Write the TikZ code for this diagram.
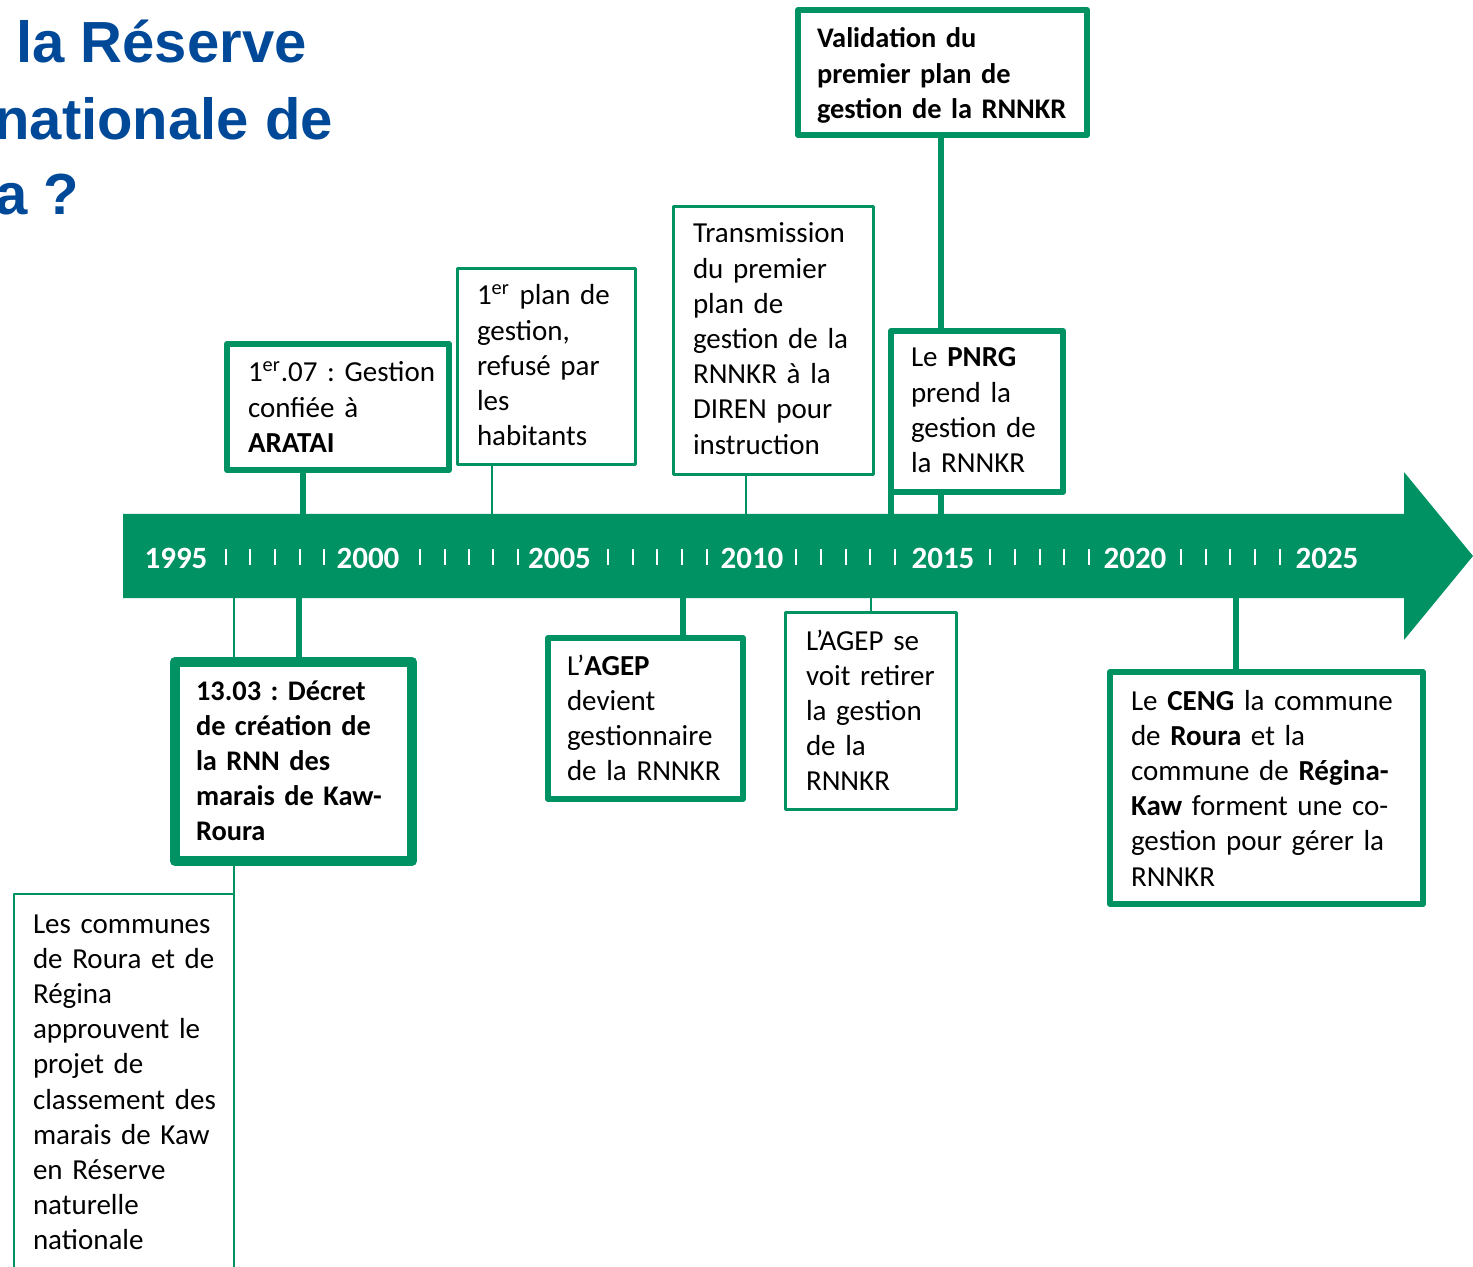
\documentclass[tikz,border=0pt]{standalone}
\usepackage{fontspec}
\setmainfont{Carlito}
\newfontfamily\titlefont{Liberation Sans}
\definecolor{tlgreen}{RGB}{0,146,99}
\definecolor{tlblue}{RGB}{0,72,152}
\pgfdeclarelayer{background}
\pgfsetlayers{background,main}
\frenchspacing
\begin{document}
\frenchspacing
\begin{tikzpicture}[x=0.5pt,y=-0.5pt,
  gbox/.style={draw=tlgreen, fill=white, line join=round, inner sep=0pt, outer sep=0pt, anchor=north west},
  lwthick/.style={line width=3pt},
  lwthin/.style={line width=1.4pt},
  lwheavy/.style={line width=5pt},
  conthick/.style={draw=tlgreen, line width=3pt},
  conthin/.style={draw=tlgreen, line width=1.4pt},
  txt/.style={inner sep=0pt, outer sep=0pt, align=left, text width=200pt, anchor=base west,
    font=\fontsize{14.5}{17.6}\selectfont},
  btxt/.style={txt, font=\fontsize{14.2}{17.6}\selectfont\bfseries},
  year/.style={text=white, inner sep=0pt, anchor=base, font=\fontsize{15.5}{18}\selectfont\bfseries},
  tick/.style={draw=white, line width=1pt},
  ttl/.style={text=tlblue, inner sep=0pt, anchor=base west, font=\titlefont\bfseries\fontsize{29}{34}\selectfont}
]
\useasboundingbox (0,0) rectangle (1473,1267);
\clip (0,0) rectangle (1473,1267);

% title (cut by the left edge, as in the reference)
\node[ttl] (t1) at (16,63) {la Réserve};
\node[ttl] (t2) at (-6,140) {nationale de};
\node[ttl] (t3) at (-5,215) {a ?};

% band attach points
\coordinate (uVal) at (941,514);
\coordinate (uAra) at (303,514);
\coordinate (uPlan) at (492,514);
\coordinate (uTrans) at (746,514);
\coordinate (uPnrg) at (891,514);
\coordinate (dDec) at (299,598);
\coordinate (dCom) at (234,598);
\coordinate (dAgep) at (683,598);
\coordinate (dRet) at (871,598);
\coordinate (dCeng) at (1236,598);

% boxes
\node[gbox, lwthick, minimum width=144.5pt, minimum height=62.5pt] (bVal) at (798,10) {};
\node[gbox, lwthick, minimum width=111pt, minimum height=63pt] (bAra) at (227,344) {};
\node[gbox, lwthin, minimum width=89pt, minimum height=98pt] (bPlan) at (457.5,268.5) {};
\node[gbox, lwthin, minimum width=100pt, minimum height=134pt] (bTrans) at (673.5,206.5) {};
\node[gbox, lwthick, minimum width=86pt, minimum height=80.5pt] (bPnrg) at (891,331) {};
\node[gbox, lwheavy, minimum width=118.5pt, minimum height=99.5pt] (bDec) at (175,662) {};
\node[gbox, lwthick, minimum width=97.5pt, minimum height=80.5pt] (bAgep) at (548,638) {};
\node[gbox, lwthin, minimum width=85.5pt, minimum height=98.5pt] (bRet) at (785.5,612.5) {};
\node[gbox, lwthick, minimum width=156.5pt, minimum height=116pt] (bCeng) at (1110,672) {};
\node[gbox, lwthin, minimum width=110pt, minimum height=205pt] (bCom) at (14,894) {};

% texts
\node[btxt] (xVal) at (817,48) {Validation du\\premier plan de\\gestion de la RNNKR};
\node[txt] (xAra) at (248,382) {1\textsuperscript{er}.07 : Gestion\\confiée à\\\textbf{ARATAI}};
\node[txt] (xPlan) at (477,305) {1\textsuperscript{er} plan de\\gestion,\\refusé par\\les\\habitants};
\node[txt] (xTrans) at (693,243) {Transmission\\du premier\\plan de\\gestion de la\\RNNKR à la\\DIREN pour\\instruction};
\node[txt] (xPnrg) at (911,367) {Le \textbf{PNRG}\\prend la\\gestion de\\la RNNKR};
\node[btxt] (xDec) at (196,700) {13.03 : Décret\\de création de\\la RNN des\\marais de Kaw-\\Roura};
\node[txt] (xAgep) at (567,675) {L’\textbf{AGEP}\\devient\\gestionnaire\\de la RNNKR};
\node[txt] (xRet) at (806,650) {L’AGEP se\\voit retirer\\la gestion\\de la\\RNNKR};
\node[txt] (xCeng) at (1131,710) {Le \textbf{CENG} la commune\\de \textbf{Roura} et la\\commune de \textbf{Régina-}\\\textbf{Kaw} forment une co-\\gestion pour gérer la\\RNNKR};
\node[txt] (xCom) at (33,933) {Les communes\\de Roura et de\\Régina\\approuvent le\\projet de\\classement des\\marais de Kaw\\en Réserve\\naturelle\\nationale};

\begin{pgfonlayer}{background}
\fill[tlgreen] (123,514) -- (1404,514) -- (1404,472) -- (1473,556) -- (1404,640) -- (1404,598) -- (123,598) -- cycle;
\draw[conthick] (bVal.south -| uVal) -- (uVal);
\draw[conthick] (bAra.south -| uAra) -- (uAra);
\draw[conthin] (bPlan.south -| uPlan) -- (uPlan);
\draw[conthin] (bTrans.south -| uTrans) -- (uTrans);
\draw[conthick] (bPnrg.south west) -- (uPnrg);
\draw[conthick] (dDec) -- (bDec.north -| dDec);
\draw[conthin] (dCom) -- (bCom.north east);
\draw[conthick] (dAgep) -- (bAgep.north -| dAgep);
\draw[conthin] (dRet) -- (bRet.north -| dRet);
\draw[conthick] (dCeng) -- (bCeng.north -| dCeng);
\end{pgfonlayer}

% ticks
\foreach \tx in {226,250,275,300,324, 420,445,469,493,518, 608,633,657,682,707,
                 796,821,846,870,895, 990,1015,1040,1064,1089, 1181,1206,1230,1255,1280}
  \draw[tick] (\tx,549) -- (\tx,565);

% years
\node[year] (y1995) at (176,568) {1995};
\node[year] (y2000) at (368,568) {2000};
\node[year] (y2005) at (559.5,568) {2005};
\node[year] (y2010) at (752,568) {2010};
\node[year] (y2015) at (943,568) {2015};
\node[year] (y2020) at (1135,568) {2020};
\node[year] (y2025) at (1327,568) {2025};
\end{tikzpicture}
\end{document}
